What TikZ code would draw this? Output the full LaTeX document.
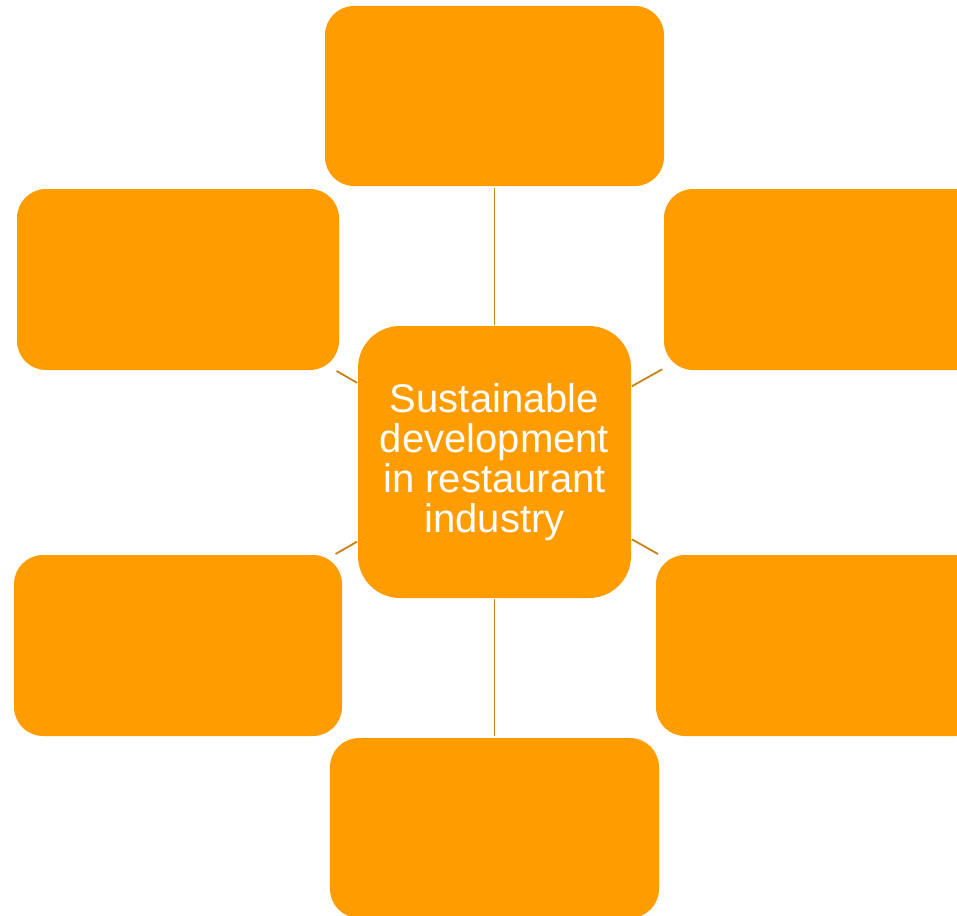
\documentclass[tikz,border=0pt]{standalone}
\usepackage{fontspec}
\setmainfont{Liberation Sans}
\usetikzlibrary{positioning}
\definecolor{boxorange}{RGB}{255,156,0}
\definecolor{linkorange}{RGB}{201,130,18}

\begin{document}
\begin{tikzpicture}[x=1pt,y=-1pt,-,line width=1.8pt,node distance=140pt,
                    box/.style={fill=boxorange,inner sep=0pt,outer sep=0pt,
                                rounded corners=29pt,minimum height=181pt},
                    hub/.style={box,rounded corners=42pt,minimum width=273pt,
                                minimum height=272pt,text=white,align=center,
                                font=\fontsize{40pt}{40pt}\selectfont}]

  \useasboundingbox (0,0) rectangle (957,915);
  \clip (0,0) rectangle (957,915);

  \node[hub]                      (A) at (494.5,462) {Sustainable\\development\\in restaurant\\industry};
  \node[box,minimum width=339pt,minimum height=180pt]  (B) [above=of A] {};
  \node[box,minimum width=322pt]  (C) at (825,279.5) {};
  \node[box,minimum width=328pt]  (D) at (820,645.5) {};
  \node[box,minimum width=329pt,minimum height=180pt]  (E) [below=of A] {};
  \node[box,minimum width=328pt]  (F) at (178,645.5) {};
  \node[box,minimum width=322pt]  (G) at (178,279.5) {};

  \path[draw=linkorange,shorten <=2pt,shorten >=1pt]
        (B) edge (A)
        (C) edge (A)
        (D) edge (A)
        (E) edge (A)
        (F) edge (A)
        (G) edge (A);
\end{tikzpicture}
\end{document}
